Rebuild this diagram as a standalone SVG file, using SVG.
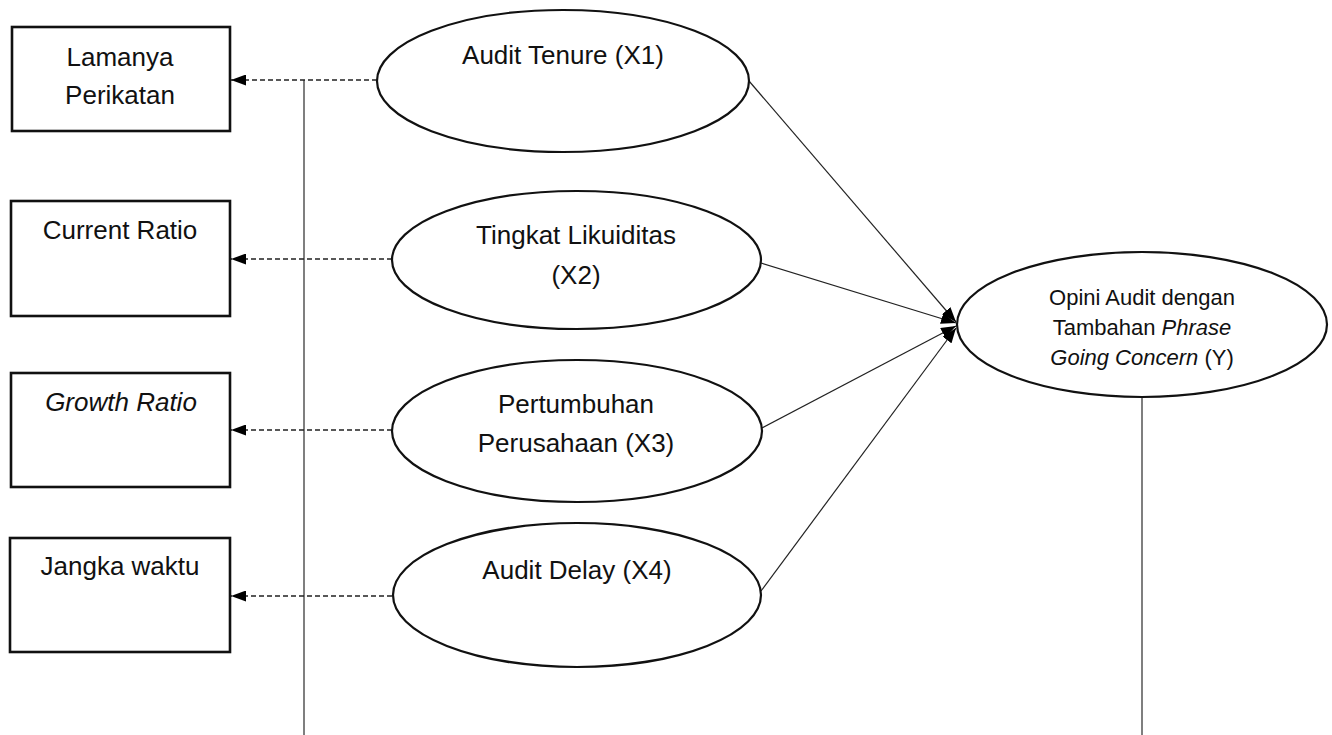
<svg xmlns="http://www.w3.org/2000/svg" width="1332" height="735" viewBox="0 0 1332 735">
<style>
  text { font-family: "Liberation Sans", Arial, sans-serif; fill: #111; text-anchor: middle; }
  .t26 { font-size: 26px; }
  .t22 { font-size: 22px; }
  .box { fill: #fff; stroke: #111; stroke-width: 2.6; }
  .ell { fill: #fff; stroke: #111; stroke-width: 2.2; }
  .dash { stroke: #222; stroke-width: 1.3; stroke-dasharray: 5 3; fill: none; }
  .solid { stroke: #222; stroke-width: 1.2; fill: none; }
  .vert { stroke: #555; stroke-width: 1.5; fill: none; }
</style>
<defs>
  <marker id="arr" viewBox="0 0 15 11" refX="15" refY="5.5" markerWidth="15" markerHeight="11" markerUnits="userSpaceOnUse" orient="auto">
    <path d="M0,0 L15,5.5 L0,11 z" fill="#000"/>
  </marker>
</defs>
<rect width="1332" height="735" fill="#fff"/>

<g id="connectors">
  <line class="vert" x1="304" y1="80" x2="304" y2="735"/>
  <line class="vert" x1="1142" y1="397" x2="1142" y2="735"/>
  <line class="dash" x1="377" y1="80" x2="231" y2="80" marker-end="url(#arr)"/>
  <line class="dash" x1="392" y1="259" x2="231" y2="259" marker-end="url(#arr)"/>
  <line class="dash" x1="392" y1="430" x2="231" y2="430" marker-end="url(#arr)"/>
  <line class="dash" x1="392" y1="596" x2="231" y2="596" marker-end="url(#arr)"/>
  <line class="solid" x1="749" y1="81" x2="956" y2="322" marker-end="url(#arr)"/>
  <line class="solid" x1="761" y1="263" x2="956" y2="323" marker-end="url(#arr)"/>
  <line class="solid" x1="762" y1="428" x2="956" y2="326" marker-end="url(#arr)"/>
  <line class="solid" x1="761" y1="591" x2="956" y2="328" marker-end="url(#arr)"/>
</g>

<g id="box-lamanya">
  <rect class="box" x="12" y="27" width="218" height="104"/>
  <text class="t26" x="120" y="66">Lamanya</text>
  <text class="t26" x="120" y="104">Perikatan</text>
</g>
<g id="box-current">
  <rect class="box" x="11" y="201" width="219" height="115"/>
  <text class="t26" x="120" y="239">Current Ratio</text>
</g>
<g id="box-growth">
  <rect class="box" x="11" y="373" width="219" height="114"/>
  <text class="t26" x="121" y="411" font-style="italic">Growth Ratio</text>
</g>
<g id="box-jangka">
  <rect class="box" x="10" y="538" width="220" height="114"/>
  <text class="t26" x="120" y="575">Jangka waktu</text>
</g>

<g id="ell-x1">
  <ellipse class="ell" cx="563" cy="81" rx="186" ry="71"/>
  <text class="t26" x="563" y="64">Audit Tenure (X1)</text>
</g>
<g id="ell-x2">
  <ellipse class="ell" cx="576.5" cy="260" rx="184.5" ry="69"/>
  <text class="t26" x="576" y="244">Tingkat Likuiditas</text>
  <text class="t26" x="576" y="284">(X2)</text>
</g>
<g id="ell-x3">
  <ellipse class="ell" cx="577" cy="431" rx="185" ry="71"/>
  <text class="t26" x="576" y="413">Pertumbuhan</text>
  <text class="t26" x="576" y="452">Perusahaan (X3)</text>
</g>
<g id="ell-x4">
  <ellipse class="ell" cx="577" cy="595" rx="184" ry="72"/>
  <text class="t26" x="577" y="579">Audit Delay (X4)</text>
</g>
<g id="ell-y">
  <ellipse class="ell" cx="1142" cy="324.5" rx="185" ry="72.5"/>
  <text class="t22" x="1142" y="305">Opini Audit dengan</text>
  <text class="t22" x="1142" y="335">Tambahan <tspan font-style="italic">Phrase</tspan></text>
  <text class="t22" x="1142" y="365"><tspan font-style="italic">Going Concern</tspan> (Y)</text>
</g>
</svg>
